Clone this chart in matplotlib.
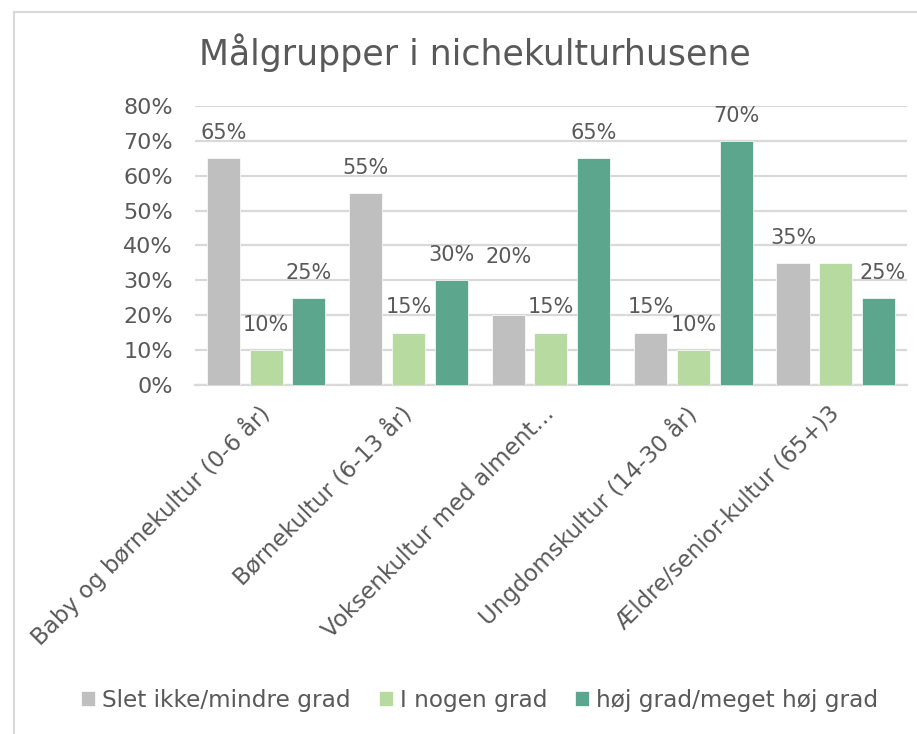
import numpy as np
import matplotlib.pyplot as plt
from matplotlib.lines import Line2D

# data
categories = ['Baby og børnekultur (0-6 år)', 'Børnekultur (6-13 år)',
              'Voksenkultur med alment…', 'Ungdomskultur (14-30 år)',
              'Ældre/senior-kultur (65+)3']
series_names = ['Slet ikke/mindre grad', 'I nogen grad', 'høj grad/meget høj grad']
slet_ikke = [0.65, 0.55, 0.20, 0.15, 0.35]
nogen_grad = [0.10, 0.15, 0.15, 0.10, 0.35]
hoj_grad = [0.25, 0.30, 0.65, 0.70, 0.25]
yticks = [0, 0.1, 0.2, 0.3, 0.4, 0.5, 0.6, 0.7, 0.8]

colors = ['#BFBFBF', '#B7DAA1', '#5BA68C']
txt = '#595959'
grid = '#D9D9D9'

plt.rcParams['font.family'] = ['DejaVu Sans']

fig = plt.figure(figsize=(9.17, 7.34), dpi=100)
ax = fig.add_axes([0.2127, 0.4755, 0.7763, 0.3801])

x = np.arange(len(categories))
width = 0.232
offsets = [-0.30, 0.0, 0.30]
data = [slet_ikke, nogen_grad, hoj_grad]

# label nudges in points (dx, dy) - a couple were moved by hand in the original
nudge = {(0, 2): (0, 24), (1, 4): None, (2, 4): (3, 0)}

for s, vals in enumerate(data):
    bars = ax.bar(x + offsets[s], vals, width, color=colors[s],
                  edgecolor='white', linewidth=0.5, label=series_names[s], zorder=3)
    for i, b in enumerate(bars):
        key = (s, i)
        if key in nudge and nudge[key] is None:
            continue
        dx, dy = nudge.get(key, (0, 0))
        ax.annotate('{:.0%}'.format(vals[i]),
                    (b.get_x() + b.get_width() / 2, b.get_height()),
                    xytext=(dx, 11 + dy), textcoords='offset points',
                    ha='center', va='bottom', fontsize=15, color=txt)

ax.set_xlim(-0.5, 4.5)
ax.set_ylim(0, 0.8)
ax.set_yticks(yticks)
ax.set_yticklabels(['{:.0%}'.format(v) for v in yticks])
ax.yaxis.grid(True, color=grid, linewidth=1.6, zorder=0)
ax.set_axisbelow(True)
for sp in ['top', 'right', 'left']:
    ax.spines[sp].set_visible(False)
ax.spines['bottom'].set_color(grid)
ax.spines['bottom'].set_linewidth(1.6)
ax.tick_params(axis='y', length=0, pad=16, labelsize=16, labelcolor=txt)
ax.tick_params(axis='x', length=0, pad=18, labelsize=16.5, labelcolor=txt)
ax.set_xticks(x)
ax.set_xticklabels(categories, rotation=45, ha='right', va='center',
                   rotation_mode='anchor')

fig.text(0.518, 0.928, 'Målgrupper i nichekulturhusene', ha='center', va='center',
         fontsize=25, color=txt)

ax.legend(loc='center', bbox_to_anchor=(0.523, 0.046), bbox_transform=fig.transFigure,
          ncol=3, frameon=False, fontsize=16.7, labelcolor=txt,
          handlelength=0.6, handleheight=0.6, handletextpad=0.3, columnspacing=1.2)

# chart frame (only left and top edges are visible in the crop)
fig.add_artist(Line2D([14 / 917, 14 / 917], [0, 1 - 12 / 734], color=grid, linewidth=1.5))
fig.add_artist(Line2D([14 / 917, 1], [1 - 12 / 734, 1 - 12 / 734], color=grid, linewidth=1.5))

plt.savefig('out.png', dpi=100)
plt.close()
